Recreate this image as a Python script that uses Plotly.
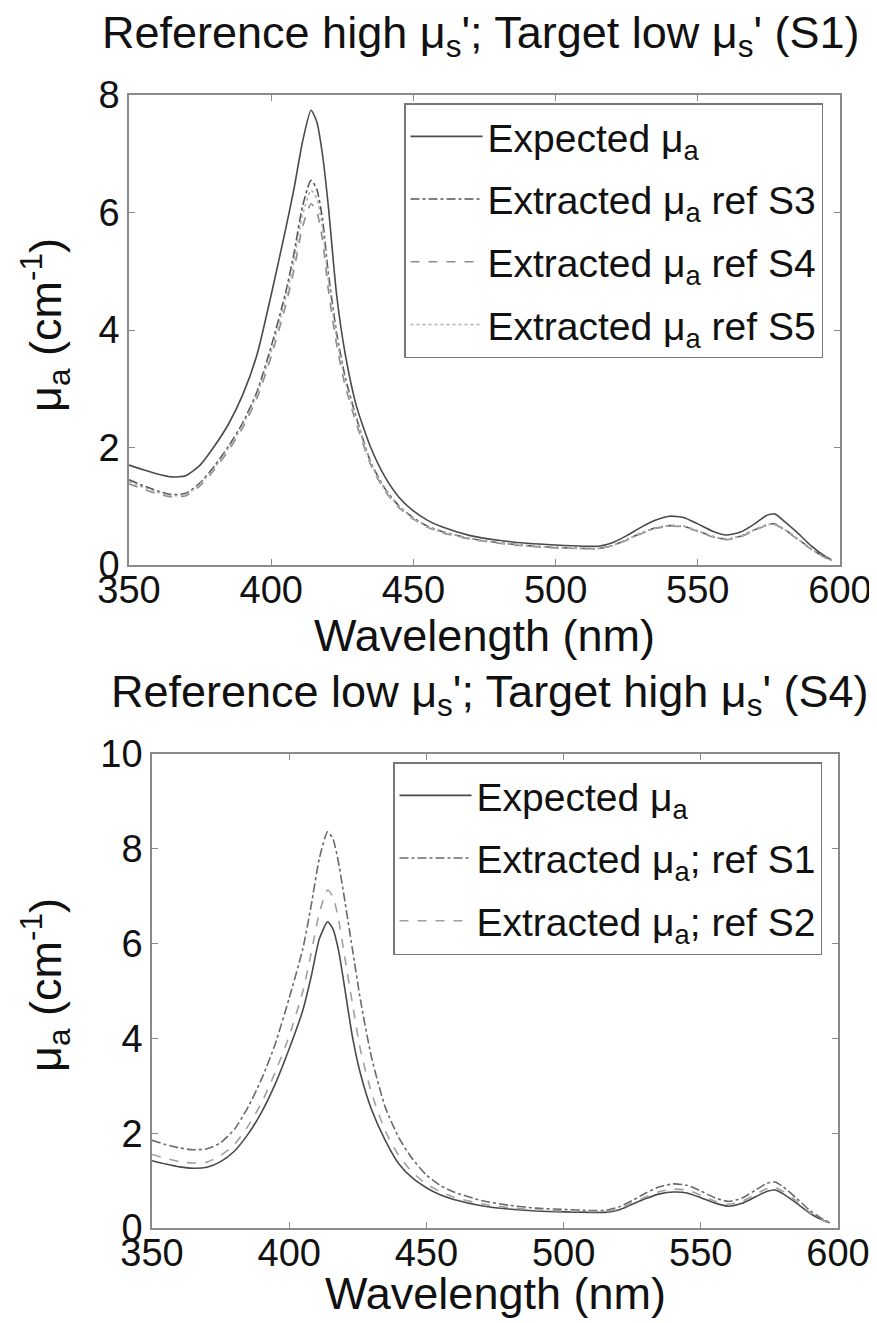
import plotly.graph_objects as go

# ---------------- data ----------------
wavelength = [350, 355, 360, 365, 370, 375, 380, 385, 390, 395, 400, 405, 408, 411, 414, 416, 418, 420,
              423, 426, 430, 435, 440, 445, 450, 455, 460, 470, 480, 490, 500, 510, 515, 520, 525, 530,
              535, 540, 545, 550, 555, 560, 565, 570, 574, 577, 580, 585, 590, 595, 597]

# Top panel: Reference high mu_s'; Target low mu_s' (S1)
top_expected = [1.70, 1.62, 1.55, 1.50, 1.52, 1.70, 2.02, 2.40, 2.90, 3.58, 4.60, 5.70, 6.40, 7.20, 7.74, 7.55, 7.00, 6.15,
                4.60, 3.60, 2.70, 2.00, 1.50, 1.15, 0.92, 0.76, 0.65, 0.50, 0.42, 0.37, 0.34, 0.32, 0.32, 0.38, 0.50, 0.64,
                0.76, 0.83, 0.81, 0.70, 0.58, 0.51, 0.56, 0.70, 0.84, 0.87, 0.76, 0.55, 0.32, 0.14, 0.09]
top_ref_s3 = [1.45, 1.35, 1.26, 1.20, 1.22, 1.40, 1.68, 2.02, 2.42, 2.95, 3.72, 4.62, 5.30, 6.10, 6.55, 6.40, 5.90, 5.00,
              3.95, 3.20, 2.50, 1.75, 1.30, 1.00, 0.80, 0.66, 0.57, 0.45, 0.38, 0.33, 0.30, 0.28, 0.28, 0.33, 0.43, 0.54,
              0.63, 0.67, 0.66, 0.58, 0.49, 0.44, 0.49, 0.60, 0.68, 0.70, 0.62, 0.45, 0.27, 0.12, 0.08]
top_ref_s4 = [1.38, 1.29, 1.21, 1.16, 1.18, 1.35, 1.62, 1.95, 2.34, 2.84, 3.55, 4.40, 5.02, 5.75, 6.15, 6.02, 5.55, 4.72,
              3.75, 3.05, 2.40, 1.70, 1.26, 0.97, 0.78, 0.64, 0.55, 0.44, 0.37, 0.32, 0.29, 0.28, 0.28, 0.33, 0.42, 0.53,
              0.62, 0.66, 0.65, 0.57, 0.48, 0.43, 0.48, 0.59, 0.67, 0.69, 0.61, 0.44, 0.26, 0.12, 0.08]
top_ref_s5 = [1.42, 1.32, 1.24, 1.18, 1.20, 1.38, 1.65, 1.99, 2.38, 2.90, 3.64, 4.52, 5.18, 5.95, 6.38, 6.24, 5.75, 4.88,
              3.87, 3.13, 2.46, 1.73, 1.28, 0.99, 0.79, 0.65, 0.56, 0.45, 0.38, 0.33, 0.30, 0.28, 0.28, 0.33, 0.43, 0.54,
              0.63, 0.67, 0.66, 0.58, 0.49, 0.44, 0.49, 0.60, 0.68, 0.70, 0.62, 0.45, 0.27, 0.12, 0.08]

# Bottom panel: Reference low mu_s'; Target high mu_s' (S4)
bot_expected = [1.42, 1.35, 1.29, 1.26, 1.28, 1.40, 1.62, 1.98, 2.45, 3.05, 3.78, 4.60, 5.30, 6.10, 6.46, 6.30, 5.85, 5.15,
                4.05, 3.25, 2.50, 1.85, 1.35, 1.05, 0.85, 0.70, 0.60, 0.47, 0.40, 0.36, 0.34, 0.33, 0.33, 0.38, 0.50, 0.62,
                0.72, 0.76, 0.74, 0.64, 0.53, 0.46, 0.52, 0.66, 0.77, 0.80, 0.72, 0.52, 0.30, 0.15, 0.11]
bot_ref_s1 = [1.85, 1.76, 1.69, 1.65, 1.67, 1.80, 2.08, 2.55, 3.15, 3.90, 4.85, 5.90, 6.80, 7.80, 8.36, 8.20, 7.70, 7.00,
              5.90, 4.80, 3.60, 2.55, 1.90, 1.45, 1.12, 0.90, 0.76, 0.58, 0.48, 0.42, 0.39, 0.37, 0.37, 0.44, 0.58, 0.74,
              0.87, 0.93, 0.90, 0.78, 0.64, 0.56, 0.63, 0.80, 0.94, 0.97, 0.87, 0.62, 0.36, 0.17, 0.12]
bot_ref_s2 = [1.55, 1.47, 1.40, 1.37, 1.39, 1.53, 1.76, 2.15, 2.65, 3.30, 4.05, 5.00, 5.80, 6.65, 7.13, 6.98, 6.50, 5.80,
              4.75, 3.75, 2.85, 2.05, 1.52, 1.17, 0.93, 0.77, 0.65, 0.51, 0.43, 0.38, 0.36, 0.35, 0.35, 0.40, 0.53, 0.66,
              0.77, 0.82, 0.80, 0.69, 0.57, 0.50, 0.56, 0.71, 0.83, 0.86, 0.77, 0.56, 0.32, 0.15, 0.11]

x_ticks = [350, 400, 450, 500, 550, 600]
top_y_ticks = [0, 2, 4, 6, 8]
bot_y_ticks = [0, 2, 4, 6, 8, 10]

# ---------------- figure ----------------
# The page body has an 8 px margin, so the figure is made slightly smaller and
# screen positions are converted by removing that offset.
OFF = 8
W, H = 866, 1312
FONT = "Liberation Sans, Arial, Helvetica, sans-serif"
AXC = "#8a8a8a"

fig = go.Figure()

def add(x, y, name, dash, color, xa, ya, legend, grp):
    fig.add_trace(go.Scatter(x=x, y=y, mode="lines", name=name, xaxis=xa, yaxis=ya,
                             legend=legend, legendgroup=grp,
                             line=dict(color=color, width=1.6, dash=dash, shape="spline", smoothing=0.6)))

add(wavelength, top_expected, "Expected μ<sub>a</sub>", "solid", "#4a4a4a", "x", "y", "legend", "a")
add(wavelength, top_ref_s3, "Extracted μ<sub>a</sub> ref S3", "dashdot", "#555555", "x", "y", "legend", "b")
add(wavelength, top_ref_s4, "Extracted μ<sub>a</sub> ref S4", "dash", "#8c8c8c", "x", "y", "legend", "c")
add(wavelength, top_ref_s5, "Extracted μ<sub>a</sub> ref S5", "dot", "#b0b0b0", "x", "y", "legend", "d")

add(wavelength, bot_expected, "Expected μ<sub>a</sub>", "solid", "#4a4a4a", "x2", "y2", "legend2", "e")
add(wavelength, bot_ref_s1, "Extracted μ<sub>a</sub>; ref S1", "dashdot", "#6a6a6a", "x2", "y2", "legend2", "f")
add(wavelength, bot_ref_s2, "Extracted μ<sub>a</sub>; ref S2", "dash", "#a0a0a0", "x2", "y2", "legend2", "g")

def px_x(p):
    return (p - OFF) / W

def px_y(p):
    return 1 - (p - OFF) / H

axis_common = dict(showline=True, linecolor=AXC, linewidth=1.5, mirror="ticks", ticks="inside",
                   ticklen=6, tickwidth=1.2, tickcolor=AXC, showgrid=False, zeroline=False,
                   automargin=False,
                   tickfont=dict(family=FONT, size=38, color="#111111"))

legend_common = dict(xanchor="left", yanchor="top", bgcolor="white", bordercolor="#777777",
                     borderwidth=1.5, font=dict(family=FONT, size=39, color="#111111"),
                     tracegroupgap=9, itemwidth=72)

fig.update_layout(
    width=W, height=H,
    margin=dict(l=0, r=0, t=0, b=0, autoexpand=False),
    paper_bgcolor="white", plot_bgcolor="white",
    font=dict(family=FONT, color="#111111"),
    xaxis=dict(domain=[px_x(129), px_x(840)], range=[350, 600], tickvals=x_ticks, anchor="y",
               ticklabelstandoff=-9, **axis_common),
    yaxis=dict(domain=[px_y(565), px_y(95)], range=[0, 8], tickvals=top_y_ticks, anchor="x", **axis_common),
    xaxis2=dict(domain=[px_x(152), px_x(838)], range=[350, 600], tickvals=x_ticks, anchor="y2",
                ticklabelstandoff=-9, **axis_common),
    yaxis2=dict(domain=[px_y(1228), px_y(754)], range=[0, 10], tickvals=bot_y_ticks, anchor="x2", **axis_common),
    legend=dict(x=px_x(404), y=px_y(103), **legend_common),
    legend2=dict(x=px_x(393), y=px_y(762), **legend_common),
    showlegend=True,
)

ann_font = dict(family=FONT, size=45, color="#111111")
annotations = [
    dict(text="Reference high μ<sub>s</sub>'; Target low μ<sub>s</sub>' (S1)", x=px_x(481), y=px_y(35)),
    dict(text="Wavelength (nm)", x=px_x(484), y=px_y(635)),
    dict(text="Reference low μ<sub>s</sub>'; Target high μ<sub>s</sub>' (S4)", x=px_x(490), y=px_y(694)),
    dict(text="Wavelength (nm)", x=px_x(495), y=px_y(1293)),
    dict(text="μ<sub>a</sub> (cm<sup>-1</sup>)", x=px_x(45), y=px_y(325), textangle=-90),
    dict(text="μ<sub>a</sub> (cm<sup>-1</sup>)", x=px_x(45), y=px_y(985), textangle=-90),
]
for a in annotations:
    fig.add_annotation(xref="paper", yref="paper", showarrow=False, xanchor="center", yanchor="middle",
                       borderpad=0, font=ann_font, **a)

fig.write_html("out.html")
